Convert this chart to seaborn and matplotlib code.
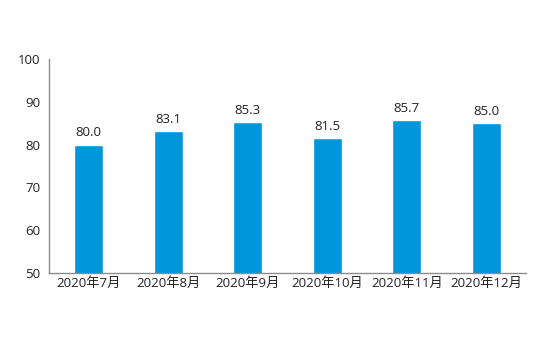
import matplotlib
matplotlib.use("Agg")
import matplotlib.pyplot as plt
import seaborn as sns
import pandas as pd

months = ["2020年7月", "2020年8月", "2020年9月", "2020年10月", "2020年11月", "2020年12月"]
values = [80.0, 83.1, 85.3, 81.5, 85.7, 85.0]
y_ticks = [50, 60, 70, 80, 90, 100]

sns.set_style("white")
plt.rcParams["font.family"] = ["Open Sans", "Noto Sans CJK SC", "DejaVu Sans"]

df = pd.DataFrame({"month": months, "value": values})

fig = plt.figure(figsize=(5.6, 3.41), dpi=100)
ax = fig.add_axes([49 / 560, 1 - 273 / 341, (526 - 49) / 560, (273 - 59) / 341])

sns.barplot(data=df, x="month", y="value", color="#0096DB", width=0.365,
            saturation=1, ax=ax)

ax.set_ylim(50, 100)
ax.set_yticks(y_ticks)
ax.set_xlabel("")
ax.set_ylabel("")

for i, v in enumerate(values):
    ax.text(i, v + 1.2, f"{v:.1f}", ha="center", va="bottom", fontsize=9.5, color="#222222")

for side in ["top", "right"]:
    ax.spines[side].set_visible(False)
for side in ["left", "bottom"]:
    ax.spines[side].set_color("#8c8c8c")
    ax.spines[side].set_linewidth(1)

ax.tick_params(axis="y", direction="in", length=4, width=1, color="#8c8c8c",
               labelsize=9.5, labelcolor="#222222", pad=6)
ax.tick_params(axis="x", length=0, labelsize=9.5, labelcolor="#222222", pad=3)

fig.savefig("out.png", dpi=100)
